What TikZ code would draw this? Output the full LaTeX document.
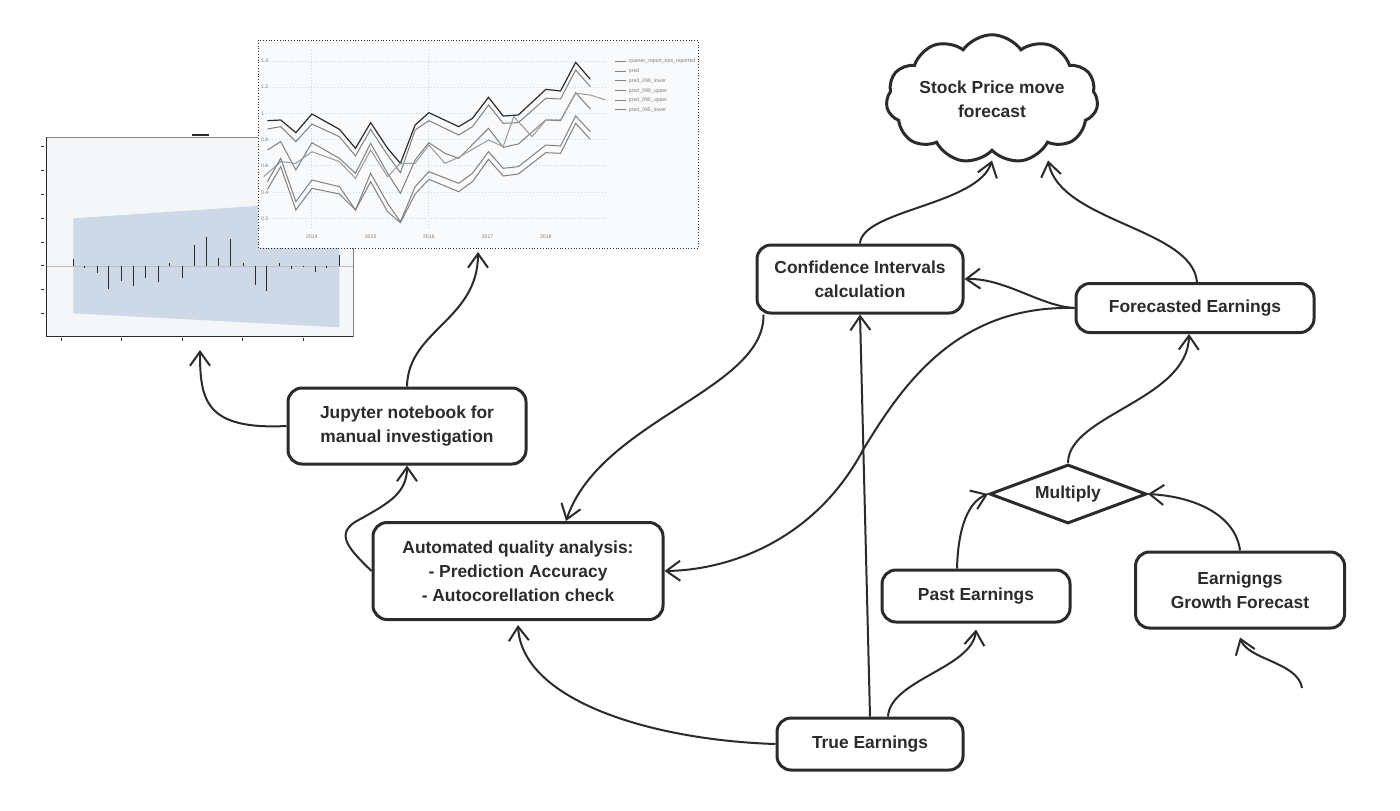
\documentclass[tikz,border=0pt]{standalone}
\usepackage{fontspec}
\setmainfont{Liberation Sans}
\usetikzlibrary{arrows.meta,shapes.geometric,shapes.symbols}
\definecolor{ink}{HTML}{2B2B2B}
\definecolor{band}{HTML}{CDD9E6}
\definecolor{paper}{HTML}{F5F6F8}
\definecolor{gridblue}{HTML}{C5D6EA}
\tikzset{
  box/.style={draw=ink, line width=1.5pt, rounded corners=7pt, align=center, text=ink,
    font=\bfseries\fontsize{8.7}{12}\selectfont, inner sep=2pt},
  link/.style={draw=ink, line width=1pt, -{Straight Barb[length=7pt,width=10pt]}},
  tiny/.style={font=\fontsize{2.6}{3}\selectfont, text=gray, inner sep=0.5pt},
  series/.style={line width=0.5pt, draw=gray}
}

\begin{document}
\begin{tikzpicture}[x=0.5pt, y=-0.5pt]
\fill[white] (0,0) rectangle (1400,810);
\useasboundingbox (0,0) rectangle (1400,810);

% Left chart (screenshot)
\begin{scope}[shift={(0,30)}, xscale=0.4587, yscale=0.3333]
  \fill[paper] (102,322) rectangle (770,920);
  \draw[gray, line width=0.4pt] (102,322) rectangle (770,920);
  \draw[ink, line width=0.6pt] (102,322) -- (102,920) -- (770,920);
  \fill[band] (160,565) -- (560,528) -- (740,520) -- (740,892) -- (160,850) -- cycle;
  \draw[gray!50, line width=0.3pt] (102,708) -- (770,708);
  \foreach \x/\y in {160/688, 185/715, 212/730, 237/778, 265/752, 290/768, 317/745, 345/755,
      370/700, 398/745, 425/645, 450/620, 477/683, 502/628, 530/700, 556/765, 582/782,
      610/698, 636/716, 662/712, 688/725, 712/714, 740/675}
    \draw[ink, line width=0.5pt] (\x,708) -- (\x,\y);
  \foreach \y in {350,422,493,565,637,708,778,850}
    \draw[ink, line width=0.5pt] (90,\y) -- (97,\y);
  \foreach \x in {133,265,397,528,661}
    \draw[ink, line width=0.5pt] (\x,924) -- (\x,932);
  \draw[ink, line width=1pt] (418,314) -- (455,314);
\end{scope}

% Right chart (screenshot)
\begin{scope}[shift={(0,30)}, xscale=0.4587, yscale=0.3333]
  \fill[paper!60!white] (563,30) rectangle (1522,655);
  \draw[ink, densely dotted, line width=0.4pt] (563,30) rectangle (1522,655);
  \foreach \y/\v [count=\i] in {93/1.4,171/1.2,250/1,330/0.8,408/0.6,487/0.4,566/0.2} {
    \draw[gridblue, densely dotted, line width=0.5pt] (580,\y) -- (1320,\y);
    \node[tiny, anchor=west] (ylab\i) at (566,\y) {\v};
  }
  \foreach \x in {680,935}
    \draw[gridblue, densely dotted, line width=0.5pt] (\x,60) -- (\x,600);
  \foreach \x/\t [count=\i] in {680/2014, 808/2015, 935/2016, 1063/2017, 1190/2018}
    \node[tiny] (year\i) at (\x,620) {\t};
  % series
  \draw[line width=0.6pt, ink] (583,272) -- (612,270) -- (645,308) -- (680,252) -- (740,298) -- (775,355) -- (808,278) -- (845,355) -- (873,400) -- (905,285) -- (935,248) -- (1000,290) -- (1030,265) -- (1065,202) -- (1097,258) -- (1130,255) -- (1190,178) -- (1222,183) -- (1255,97) -- (1287,148);
  \draw[series] (583,297) -- (612,290) -- (645,335) -- (680,282) -- (740,320) -- (775,378) -- (808,298) -- (845,375) -- (873,428) -- (905,300) -- (935,272) -- (1000,315) -- (1030,290) -- (1065,225) -- (1097,280) -- (1130,278) -- (1190,205) -- (1222,207) -- (1255,120) -- (1287,170);
  \draw[series] (583,360) -- (612,335) -- (645,420) -- (680,338) -- (740,385) -- (775,430) -- (808,340) -- (845,430) -- (873,490) -- (905,390) -- (935,338) -- (970,370) -- (1000,385) -- (1065,295) -- (1097,352) -- (1130,342) -- (1190,270) -- (1222,272) -- (1255,188) -- (1287,237);
  \draw[series, gray!80] (575,440) -- (612,395) -- (645,400) -- (680,365) -- (740,395) -- (775,445) -- (808,360) -- (845,440) -- (873,400) -- (905,400) -- (935,345) -- (970,400) -- (1000,382) -- (1065,330) -- (1097,350) -- (1120,260) -- (1160,320) -- (1190,270) -- (1222,270) -- (1255,190) -- (1287,195) -- (1320,210);
  \draw[series] (583,455) -- (612,385) -- (645,515) -- (680,450) -- (740,470) -- (775,540) -- (808,430) -- (845,520) -- (873,575) -- (905,470) -- (935,425) -- (1000,460) -- (1030,430) -- (1065,365) -- (1097,415) -- (1130,410) -- (1190,345) -- (1222,348) -- (1255,258) -- (1287,305);
  \draw[series] (583,478) -- (612,410) -- (645,540) -- (680,475) -- (740,492) -- (775,540) -- (808,455) -- (845,545) -- (873,578) -- (905,492) -- (935,448) -- (1000,485) -- (1030,455) -- (1065,388) -- (1097,438) -- (1130,432) -- (1190,368) -- (1222,370) -- (1255,280) -- (1287,328);
  % legend
  \foreach \y/\t [count=\i] in {93/quarter\_report\_eps\_reported, 123/pred, 152/pred\_099\_lower,
      182/pred\_099\_upper, 211/pred\_095\_upper, 240/pred\_095\_lower} {
    \draw[gray, line width=0.5pt] (1340,\y) -- (1365,\y);
    \node[tiny, anchor=west] (leg\i) at (1368,\y) {\t};
  }
\end{scope}

% Nodes
\node[box, minimum width=119pt, minimum height=38pt] (jupyter) at (407,426) {Jupyter notebook for\\manual investigation};
\node[box, minimum width=145pt, minimum height=48.5pt] (quality) at (518,571) {Automated quality analysis:\\- Prediction Accuracy\\- Autocorellation check};
\node[box, minimum width=93pt, minimum height=26pt] (trueE) at (870,744) {True Earnings};
\node[box, minimum width=94pt, minimum height=26pt] (pastE) at (976,596) {Past Earnings};
\node[box, minimum width=104.5pt, minimum height=38pt] (growth) at (1240,590) {Earnigngs\\Growth Forecast};
\node[box, minimum width=119pt, minimum height=24.5pt] (forecastE) at (1195,308) {Forecasted Earnings};
\node[box, minimum width=103pt, minimum height=34pt] (confid) at (860,279) {Confidence Intervals\\calculation};
\node[diamond, draw=ink, line width=1.5pt, aspect=2.66, minimum width=78.5pt, minimum height=29.5pt,
  inner sep=0pt, text=ink, font=\bfseries\fontsize{8.7}{12}\selectfont] (multiply) at (1068,494) {Multiply};
\node[cloud, draw=ink, line width=1.5pt, cloud puffs=11, cloud puff arc=110, aspect=2, inner sep=0pt,
  minimum width=104pt, minimum height=50pt, align=center, text=ink,
  font=\bfseries\fontsize{8.7}{12}\selectfont] (stock) at (992,99) {Stock Price move\\forecast};

\coordinate (chartA) at (200,350);
\coordinate (chartB) at (478,252);
\coordinate (growthIn) at (1302,688);

% Arrows
\draw[link] (jupyter.north) .. controls (408,330) and (478,320) .. (chartB);
\draw[link] (jupyter.west) .. controls (205,430) and (200,400) .. (chartA);
\draw[link] (quality.west) .. controls (350,550) and (335,535) .. (355,522) .. controls (385,505) and (407,495) .. (jupyter.south);
\draw[link] ([xshift=4pt]confid.south west) .. controls (765,390) and (600,420) .. ([xshift=24pt]quality.north);
\draw[link] (forecastE.west) .. controls (960,305) and (905,380) .. (863,450) .. controls (815,540) and (730,570) .. (quality.east);
\draw[link] (forecastE.west) .. controls (1040,306) and (1005,278) .. (confid.east);
\draw[link] (trueE.north) -- (confid.south);
\draw[link] (trueE.west) .. controls (650,740) and (522,700) .. ([yshift=-2pt]quality.south);
\draw[link] ([xshift=9pt]trueE.north) .. controls (890,680) and (972,668) .. ([yshift=-3pt]pastE.south);
\draw[link] ([xshift=-9.5pt]pastE.north) .. controls (958,528) and (968,502) .. (multiply.west);
\draw[link] (growth.north) .. controls (1236,518) and (1200,497) .. (multiply.east);
\draw[link] (multiply.north) .. controls (1068,415) and (1188,400) .. ([xshift=-3pt]forecastE.south);
\draw[link] (growthIn) .. controls (1298,662) and (1248,660) .. ([yshift=-4pt]growth.south);
\draw[link] (confid.north) .. controls (862,210) and (978,205) .. ([yshift=-4pt]stock.south);
\draw[link] ([xshift=1pt]forecastE.north) .. controls (1192,228) and (1060,222) .. ([xshift=28pt,yshift=-4pt]stock.south);
\end{tikzpicture}
\end{document}
